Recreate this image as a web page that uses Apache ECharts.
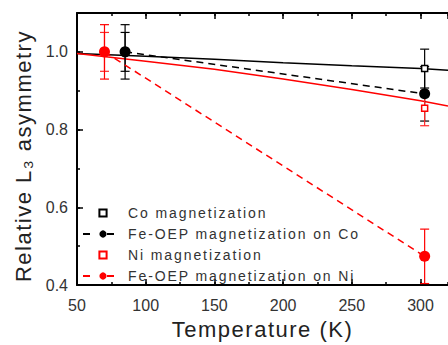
<!DOCTYPE html>
<html><head><meta charset="utf-8">
<script src="https://cdn.jsdelivr.net/npm/echarts@6/dist/echarts.min.js"></script>
<style>html,body{margin:0;padding:0;background:#fff}#c{width:448px;height:345px}</style>
</head><body><div id="c"></div>
<script>
// ---- data ----
const xTicks = [50, 100, 150, 200, 250, 300];
const xMax = 320;
const yTicks = [0.4, 0.6, 0.8, 1.0];
const yMax = 1.1;

const coTemps = [85, 303];
const coMag = [1.0, 0.957];
const coErr = [0.05, 0.05];
const feCoMag = [1.0, 0.892];
const feCoErr = [0.07, 0.07];

const niTemps = [70, 303];
const niMag = [1.0, 0.855];
const niErr = [0.05, 0.045];
const feNiMag = [1.0, 0.474];
const feNiErr = [0.07, 0.07];

const fitTemps = [50, 100, 150, 200, 250, 300, 320];
const coFit = [0.996, 0.989, 0.981, 0.972, 0.964, 0.957, 0.953];
const niFit = [0.996, 0.976, 0.955, 0.930, 0.903, 0.874, 0.861];

const legendNames = ['Co magnetization', 'Fe-OEP magnetization on Co', 'Ni magnetization', 'Fe-OEP magnetization on Ni'];
const xName = 'Temperature (K)';
const yName = 'Relative L\u2083 asymmetry';

// ---- build ----
const FONT = '"Liberation Sans", Arial, Helvetica, sans-serif';
const pairs = (xs, ys) => xs.map((x, i) => [x, ys[i]]);
const triples = (xs, ys, es) => xs.map((x, i) => [x, ys[i], es[i]]);

function errRender(params, api) {
  const x = api.value(0), y = api.value(1), e = api.value(2);
  const top = api.coord([x, y + e]);
  const bot = api.coord([x, y - e]);
  const w = 4.5;
  const style = { stroke: api.visual('color'), lineWidth: 1.2 };
  return { type: 'group', children: [
    { type: 'line', shape: { x1: top[0], y1: top[1], x2: bot[0], y2: bot[1] }, style },
    { type: 'line', shape: { x1: top[0] - w, y1: top[1], x2: top[0] + w, y2: top[1] }, style },
    { type: 'line', shape: { x1: bot[0] - w, y1: bot[1], x2: bot[0] + w, y2: bot[1] }, style }
  ]};
}
function errSeries(xs, ys, es, color) {
  return { type: 'custom', renderItem: errRender, data: triples(xs, ys, es),
    encode: { x: 0, y: 1 }, itemStyle: { color }, z: 3, silent: true };
}

const xMin = xTicks[0], xInt = xTicks[1] - xTicks[0];
const yMin = yTicks[0], yInt = +(yTicks[1] - yTicks[0]).toFixed(3);
const axisLineStyle = { color: '#000', width: 2 };

const chart = echarts.init(document.getElementById('c'), null, { renderer: 'svg' });
chart.setOption({
  animation: false,
  backgroundColor: '#fff',
  grid: { left: 77, top: 13, width: 372, bottom: 54, containLabel: false },
  xAxis: [
    { type: 'value', position: 'bottom', min: xMin, max: xMax, interval: xInt,
      axisLine: { lineStyle: axisLineStyle },
      axisTick: { inside: true, length: 6, lineStyle: { color: '#000', width: 1.5 } },
      axisLabel: { fontSize: 16, color: '#333', fontFamily: FONT, margin: 12, showMaxLabel: false },
      splitLine: { show: false },
      name: xName, nameLocation: 'middle', nameGap: 27,
      nameTextStyle: { fontSize: 22, color: '#222', fontFamily: FONT } },
    { type: 'value', position: 'bottom', min: xMin, max: xMax, interval: xInt / 2,
      axisLine: { show: false },
      axisTick: { inside: true, length: 3, lineStyle: { color: '#000', width: 1.5 } },
      axisLabel: { show: false }, splitLine: { show: false } },
    { type: 'value', position: 'top', min: xMin, max: xMax, interval: xInt,
      axisLine: { lineStyle: axisLineStyle },
      axisTick: { inside: true, length: 6, lineStyle: { color: '#000', width: 1.5 } },
      axisLabel: { show: false }, splitLine: { show: false } },
    { type: 'value', position: 'top', min: xMin, max: xMax, interval: xInt / 2,
      axisLine: { show: false },
      axisTick: { inside: true, length: 3, lineStyle: { color: '#000', width: 1.5 } },
      axisLabel: { show: false }, splitLine: { show: false } }
  ],
  yAxis: [
    { type: 'value', position: 'left', min: yMin, max: yMax, interval: yInt,
      axisLine: { lineStyle: axisLineStyle },
      axisTick: { inside: true, length: 6, lineStyle: { color: '#000', width: 1.5 } },
      axisLabel: { fontSize: 16, color: '#333', fontFamily: FONT, margin: 9, showMaxLabel: false,
        formatter: v => v.toFixed(1) },
      splitLine: { show: false },
      name: yName, nameLocation: 'middle', nameGap: 42,
      nameTextStyle: { fontSize: 22, color: '#222', fontFamily: FONT, padding: [0, 14, 0, 0] } },
    { type: 'value', position: 'left', min: yMin, max: yMax, interval: yInt / 2,
      axisLine: { show: false },
      axisTick: { inside: true, length: 3, lineStyle: { color: '#000', width: 1.5 } },
      axisLabel: { show: false }, splitLine: { show: false } }
  ],
  legend: {
    data: legendNames,
    orient: 'vertical', left: 82, top: 206, padding: 0,
    itemWidth: 40, itemHeight: 9, itemGap: 7,
    lineStyle: { type: [7, 17] },
    textStyle: { fontSize: 14, color: '#333', fontFamily: FONT },
    selectedMode: false
  },
  series: [
    { type: 'line', data: pairs(fitTemps, coFit), symbol: 'none', silent: true,
      lineStyle: { color: '#000', width: 1.5 }, z: 2 },
    { type: 'line', data: pairs(fitTemps, niFit), symbol: 'none', silent: true,
      lineStyle: { color: '#ff0000', width: 1.5 }, z: 2 },
    errSeries(coTemps, coMag, coErr, '#000'),
    errSeries(coTemps, feCoMag, feCoErr, '#000'),
    errSeries(niTemps, niMag, niErr, '#ff2a2a'),
    errSeries(niTemps, feNiMag, feNiErr, '#ff0000'),
    { name: 'Co magnetization', type: 'line', data: pairs(coTemps, coMag),
      symbol: 'rect', symbolSize: 6,
      itemStyle: { color: '#fff', borderColor: '#000', borderWidth: 1.5 },
      lineStyle: { color: 'rgba(0,0,0,0)', opacity: 0, width: 0 }, z: 4 },
    { name: 'Ni magnetization', type: 'line', data: pairs(niTemps, niMag),
      symbol: 'rect', symbolSize: 6,
      itemStyle: { color: '#fff', borderColor: '#ff0000', borderWidth: 1.5 },
      lineStyle: { color: 'rgba(0,0,0,0)', opacity: 0, width: 0 }, z: 4 },
    { name: 'Fe-OEP magnetization on Co', type: 'line', data: pairs(coTemps, feCoMag),
      symbol: 'circle', symbolSize: 11,
      itemStyle: { color: '#000' },
      lineStyle: { color: '#000', width: 1.5, type: [7, 5] }, z: 6 },
    { name: 'Fe-OEP magnetization on Ni', type: 'line', data: pairs(niTemps, feNiMag),
      symbol: 'circle', symbolSize: 11,
      itemStyle: { color: '#ff0000' },
      lineStyle: { color: '#ff0000', width: 1.5, type: [7, 5] }, z: 6 }
  ]
});

function applySpacing() {
  document.querySelectorAll('#c svg text').forEach(t => {
    const s = t.textContent;
    if (legendNames.indexOf(s) >= 0) t.setAttribute('letter-spacing', '1.9');
    else if (s === xName || s === yName) t.setAttribute('letter-spacing', '1.5');
  });
}
chart.on('finished', applySpacing);
applySpacing();
setTimeout(applySpacing, 30);
</script>
</body></html>
